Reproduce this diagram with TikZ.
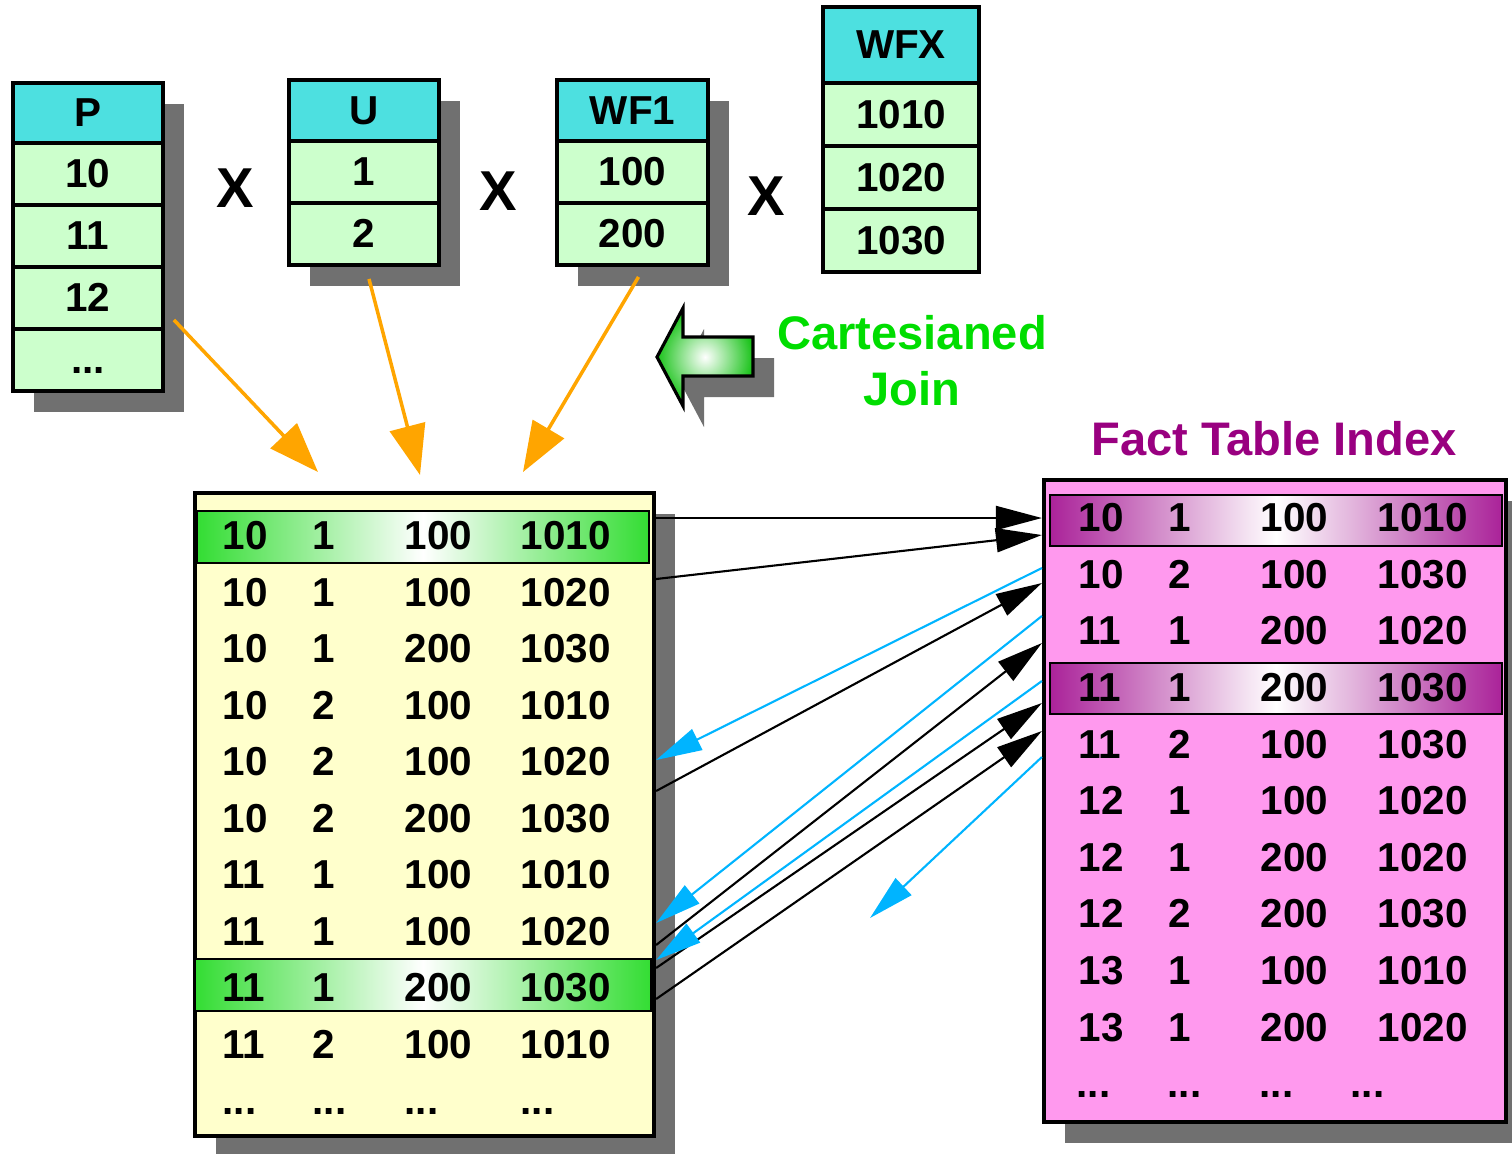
\documentclass[tikz,border=0pt]{standalone}
\usepackage{fontspec}
\setmainfont{Liberation Sans}
\usetikzlibrary{arrows.meta,calc,positioning,shadows}
\definecolor{hdcyan}{HTML}{4DE0E0}
\definecolor{cellgreen}{HTML}{CCFFCC}
\definecolor{scanyellow}{HTML}{FFFFCC}
\definecolor{factpink}{HTML}{FF99EE}
\definecolor{hlgreen}{HTML}{33DD33}
\definecolor{hlpurple}{HTML}{AA2299}
\definecolor{shadowgray}{HTML}{707070}
\definecolor{joingreen}{HTML}{00DD00}
\definecolor{factpurple}{HTML}{990080}
\definecolor{feedorange}{HTML}{FFA500}
\definecolor{probeblue}{HTML}{00B4FF}
\newcommand\more{...}

\begin{document}
\begin{tikzpicture}[x=0.1mm,y=-0.1mm,
  num/.style={font=\fontsize{11.5}{12}\selectfont\bfseries,text height=0.72em,text depth=0pt,inner sep=0pt},
  drop/.style={drop shadow={shadow xshift=2.1mm,shadow yshift=-2.1mm,fill=shadowgray,opacity=1}},
  hdr/.style={num,draw,line width=1.1pt,fill=hdcyan,text height=0.78em},
  cellbox/.style={num,draw,line width=1.1pt,fill=cellgreen,text height=0.78em},
  tablebox/.style={draw,line width=1.2pt,drop,inner sep=0pt},
  hlrow/.style={draw,line width=0.5pt,inner sep=0pt,minimum height=5.2mm},
  title/.style={font=\fontsize{13.4}{15.9}\selectfont\bfseries,align=center},
  feed/.style={draw=feedorange,line width=1pt,-{Triangle[length=5mm,width=3.6mm]}},
  fetch/.style={line width=0.6pt,-{Triangle[length=4.6mm,width=2.4mm]}},
  probe/.style={draw=probeblue,line width=0.6pt,-{Triangle[length=4.6mm,width=2.3mm]}}]
  \useasboundingbox (0,0) rectangle (1512,1153);

  % dimension tables
  \foreach \nm/\cx/\yt/\w/\hh/\rh/\cells/\sh in {
      P/88/83/150/60/62/{10,11,12,\more}/drop,
      U/364/80/150/61/62/{1,2}/drop,
      WF1/632.5/80/151/61/62/{100,200}/drop,
      WFX/901/7/156/76/63/{1010,1020,1030}/{}}
  {
    \node[hdr,\sh,minimum width=\w*0.1mm,minimum height=\hh*0.1mm] (\nm-h) at (\cx,\yt+\hh/2) {\nm};
    \foreach \t [count=\i] in \cells
      \node[cellbox,\sh,minimum width=\w*0.1mm,minimum height=\rh*0.1mm] (\nm-\i) at (\cx,\yt+\hh+\i*\rh-\rh/2) {\t};
  }
  \node[font=\fontsize{16}{16}\selectfont\bfseries] (x1) at (235,188) {X};
  \node[font=\fontsize{16}{16}\selectfont\bfseries] (x2) at (498,191) {X};
  \node[font=\fontsize{16}{16}\selectfont\bfseries] (x3) at (766,196) {X};

  % join arrow
  \draw[line width=0.9pt,drop,inner color=white,outer color=joingreen!85!black!90]
    (657,357) -- (683,308) -- (683,337) -- (753,337) -- (753,376) -- (683,376) -- (683,406) -- cycle;
  \node[title,text=joingreen] (cj) at (912,361) {Cartesianed\\Join};
  \node[title,text=factpurple] (fti) at (1274,439) {Fact Table Index};

  % cartesian product rows
  \node[tablebox,fill=scanyellow,minimum width=45.9mm,minimum height=64.3mm] (lt) at (424.5,814.5) {};
  \node[hlrow,minimum width=45.2mm,left color=hlgreen,right color=hlgreen,middle color=white] (lh1) at (423,537) {};
  \node[hlrow,minimum width=45.6mm,left color=hlgreen,right color=hlgreen,middle color=white] (lh2) at (423,985) {};
  \foreach \a/\b/\c/\d [count=\i] in {10/1/100/1010,10/1/100/1020,10/1/200/1030,10/2/100/1010,
      10/2/100/1020,10/2/200/1030,11/1/100/1010,11/1/100/1020,11/1/200/1030,11/2/100/1010,
      \more/\more/\more/\more}
  {
    \pgfmathsetmacro\ry{537+56.5*(\i-1)}
    \node[num,anchor=west] (L\i-1) at (222,\ry) {\a};
    \node[num,anchor=west] (L\i-2) at (312,\ry) {\b};
    \node[num,anchor=west] (L\i-3) at (404,\ry) {\c};
    \node[num,anchor=west] (L\i-4) at (520,\ry) {\d};
  }

  % fact table index
  \node[tablebox,fill=factpink,minimum width=46.2mm,minimum height=64.2mm] (rt) at (1275,801) {};
  \node[hlrow,minimum width=45.2mm,minimum height=5.1mm,left color=hlpurple,right color=hlpurple,middle color=white] (rh1) at (1276,520.5) {};
  \node[hlrow,minimum width=45.2mm,minimum height=5.1mm,left color=hlpurple,right color=hlpurple,middle color=white] (rh2) at (1276,688.5) {};
  \foreach \a/\b/\c/\d [count=\i] in {10/1/100/1010,10/2/100/1030,11/1/200/1020,11/1/200/1030,
      11/2/100/1030,12/1/100/1020,12/1/200/1020,12/2/200/1030,13/1/100/1010,13/1/200/1020}
  {
    \pgfmathsetmacro\ry{519+56.6*(\i-1)}
    \node[num,anchor=west] (R\i-1) at (1078,\ry) {\a};
    \node[num,anchor=west] (R\i-2) at (1168,\ry) {\b};
    \node[num,anchor=west] (R\i-3) at (1260,\ry) {\c};
    \node[num,anchor=west] (R\i-4) at (1377,\ry) {\d};
  }
  \foreach \cx [count=\j] in {1076,1167,1259,1350}
    \node[num,anchor=west] (R11-\j) at (\cx,1085) {\more};

  % feeds into the product
  \coordinate (in1) at (318,472);
  \coordinate (in2) at (420,475);
  \coordinate (in3) at (523,472);
  \draw[feed] ($(P-3.south east)+(9,-11)$) -- (in1);
  \draw[feed] ($(U-2.south)+(5,12)$) -- (in2);
  \draw[feed] ($(WF1-2.south)+(6,10)$) -- (in3);

  % index probes and hits
  \foreach \n/\ly/\ry in {1/518/518,2/579/535,3/791/583,4/945/643,5/968/703,6/999/731}{
    \coordinate (lo\n) at (lt.east |- 0,\ly);
    \coordinate (ri\n) at (rt.west |- 0,\ry);
    \draw[fetch] (lo\n) -- (ri\n);
  }
  \foreach \n/\ry/\ly in {1/568/760,2/616/923,3/681/960}{
    \coordinate (rb\n) at (rt.west |- 0,\ry);
    \coordinate (lb\n) at (lt.east |- 0,\ly);
    \draw[probe] (rb\n) -- (lb\n);
  }
  \coordinate (rb4) at (rt.west |- 0,757);
  \coordinate (miss) at (870,918);
  \draw[probe] (rb4) -- (miss);
\end{tikzpicture}
\end{document}
